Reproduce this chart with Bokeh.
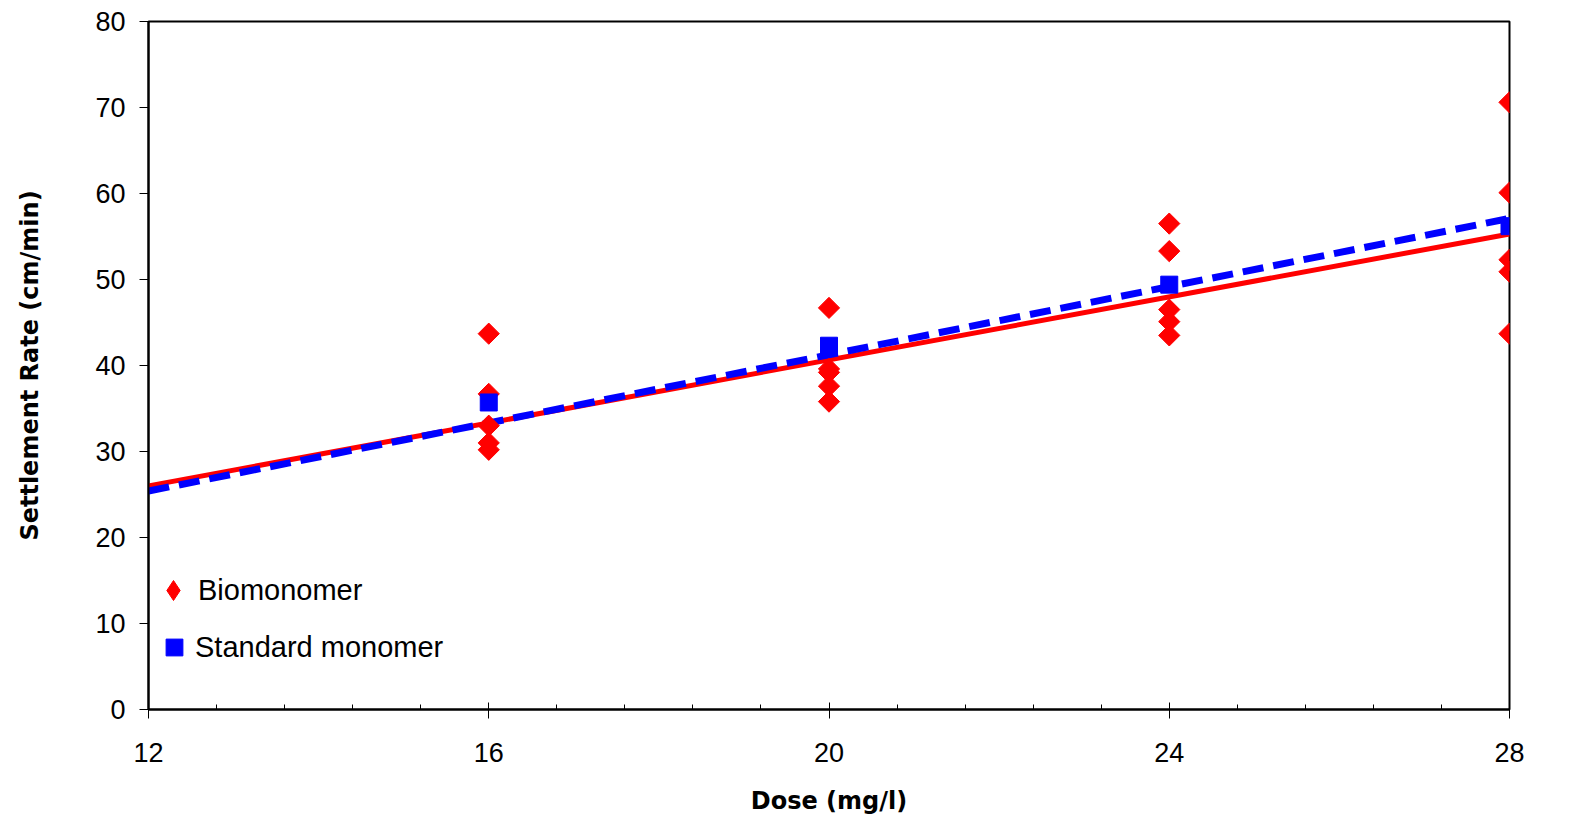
import numpy as np
from bokeh.plotting import figure
from bokeh.models import FixedTicker, Range1d, Legend, LegendItem
from bokeh.embed import file_html
from bokeh.resources import INLINE

# ---- data ----
bio_dose = [16, 16, 16, 16, 16, 20, 20, 20, 20, 20, 24, 24, 24, 24, 24, 28, 28, 28, 28, 28]
bio_rate = [43.7, 36.7, 33.0, 31.0, 30.2,
            46.7, 39.6, 39.2, 37.6, 35.8,
            56.5, 53.3, 46.5, 45.1, 43.5,
            70.6, 60.1, 52.3, 50.9, 43.7]
std_dose = [16, 20, 24, 28]
std_rate = [35.7, 42.3, 49.4, 56.2]
trend_dose = [12, 28]
bio_trend = [26.0, 55.3]
std_trend = [25.4, 57.1]
x_ticks = [12, 16, 20, 24, 28]
y_ticks = [0, 10, 20, 30, 40, 50, 60, 70, 80]

FONT = "Liberation Sans"

p = figure(width=1564, height=817, output_backend="svg", toolbar_location=None,
           x_range=Range1d(12, 28), y_range=Range1d(0, 80),
           min_border_left=148, min_border_right=55, min_border_top=21, min_border_bottom=106)
p.xgrid.visible = False
p.ygrid.visible = False
p.outline_line_color = "black"
p.outline_line_width = 2
p.background_fill_color = "white"
p.border_fill_color = "white"

red_line = p.line(trend_dose, bio_trend, line_color="#ff0000", line_width=5)
blue_line = p.line(trend_dose, std_trend, line_color="#0000ff", line_width=7,
                   line_dash="21 10")
bio_r = p.scatter(bio_dose, bio_rate, marker="square", angle=np.pi / 4, size=15,
                  fill_color="#ff0000", line_color="#ff0000")
std_r = p.scatter(std_dose, std_rate, marker="square", size=17,
                  fill_color="#0000ff", line_color="#0000ff")

# legend-only glyphs (legend drawing ignores marker angle); not drawn in the plot
bio_key = p.scatter([np.nan], [np.nan], marker="diamond", fill_color="#ff0000", line_color="#ff0000")
std_key = p.scatter([np.nan], [np.nan], marker="square", fill_color="#0000ff", line_color="#0000ff")

# axes
xa = p.xaxis[0]
xa.ticker = FixedTicker(ticks=x_ticks, minor_ticks=list(np.arange(12, 28.01, 0.8)))
xa.axis_line_width = 2
xa.major_tick_in = 7
xa.major_tick_out = 9
xa.major_tick_line_width = 1
xa.minor_tick_in = 5
xa.minor_tick_out = 0
xa.minor_tick_line_width = 1
xa.major_label_text_font = FONT
xa.major_label_text_font_size = "27px"
xa.major_label_text_color = "black"
xa.major_label_standoff = 24
xa.axis_label = "Dose (mg/l)"
xa.axis_label_text_font = "DejaVu Sans"
xa.axis_label_text_font_style = "bold"
xa.axis_label_text_font_size = "24px"
xa.axis_label_text_color = "black"
xa.axis_label_standoff = 22

ya = p.yaxis[0]
ya.ticker = FixedTicker(ticks=y_ticks, minor_ticks=[])
ya.axis_line_width = 2
ya.major_tick_in = 0
ya.major_tick_out = 9
ya.minor_tick_in = 0
ya.minor_tick_out = 0
ya.major_label_text_font = FONT
ya.major_label_text_font_size = "27px"
ya.major_label_text_color = "black"
ya.major_label_standoff = 14
ya.axis_label = "Settlement Rate (cm/min)"
ya.axis_label_text_font = "DejaVu Sans"
ya.axis_label_text_font_style = "bold"
ya.axis_label_text_font_size = "24px"
ya.axis_label_text_color = "black"
ya.axis_label_standoff = 48

leg_common = dict(orientation="vertical", padding=0, margin=0, label_standoff=0,
                  label_text_font=FONT, label_text_font_size="29px",
                  label_text_color="black",
                  border_line_color=None, background_fill_alpha=0.0)
leg1 = Legend(items=[LegendItem(label="Biomonomer", renderers=[bio_key])],
              location=(0, 94), glyph_width=50, glyph_height=50, **leg_common)
leg2 = Legend(items=[LegendItem(label="Standard monomer", renderers=[std_key])],
              location=(5, 41), glyph_width=42, glyph_height=42, **leg_common)
p.add_layout(leg1, "center")
p.add_layout(leg2, "center")

open("out.html", "w").write(file_html(p, INLINE))
